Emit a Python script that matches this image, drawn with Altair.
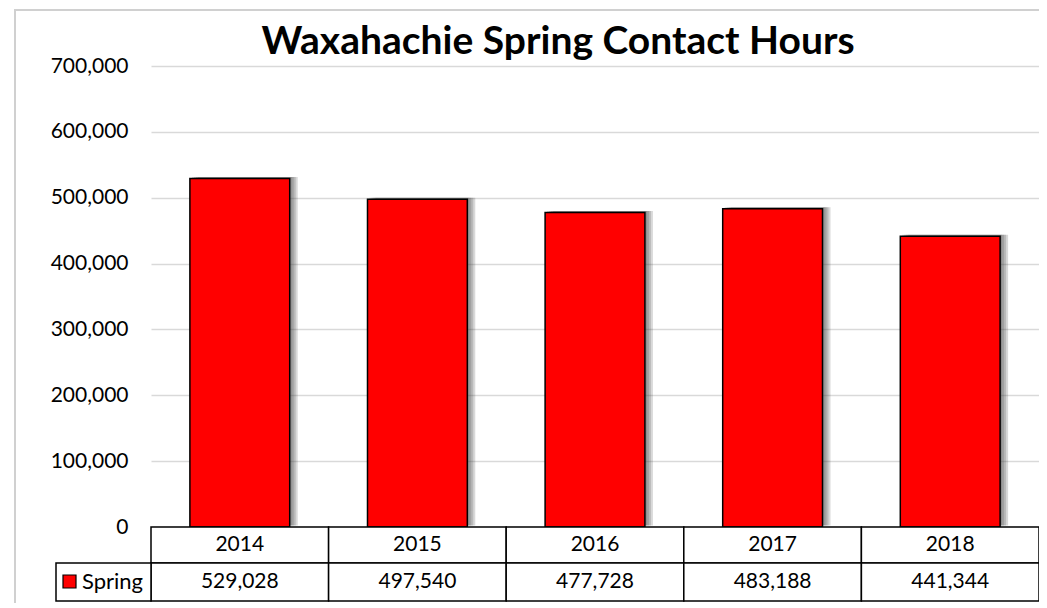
import altair as alt
import pandas as pd

years = ["2014", "2015", "2016", "2017", "2018"]
values = [529028, 497540, 477728, 483188, 441344]
y_ticks = [0, 100000, 200000, 300000, 400000, 500000, 600000, 700000]
series_name = "Spring"
chart_title = "Waxahachie Spring Contact Hours"

df = pd.DataFrame({"year": years, "value": values})
df["label"] = [f"{v:,}" for v in values]

W, H = 888, 461
FONT = "Lato"
COL = W / 5

x = alt.X("year:N", sort=years, axis=None,
          scale=alt.Scale(paddingInner=0.438, paddingOuter=0.219))
y = alt.Y("value:Q", scale=alt.Scale(domain=[0, 700000]),
          axis=alt.Axis(values=y_ticks, format=",.0f", labelFont=FONT, labelFontSize=21,
                        labelColor="#000000", labelPadding=23, ticks=False, domain=False,
                        gridColor="#d9d9d9", gridWidth=1.5, title=None))

base = alt.Chart(df)
one = alt.Chart(pd.DataFrame({"s": [series_name]}))

border = one.mark_rect(fill="transparent", stroke="#d0d0d0", strokeWidth=2).encode(
    x=alt.value(-136), x2=alt.value(905), y=alt.value(-56), y2=alt.value(580))

shadows = [
    base.mark_bar(fill="#404040", opacity=0.2, xOffset=k, yOffset=-1.5).encode(x=x, y=y)
    for k in (2, 4, 6, 8)
]
bars = base.mark_bar(fill="#ff0000", stroke="#000000", strokeWidth=1.5).encode(x=x, y=y)

row1 = base.mark_bar(width=COL, fill="white", stroke="#000000", strokeWidth=1.5).encode(
    x=x, y=alt.value(H), y2=alt.value(H + 36))
row2 = base.mark_bar(width=COL, fill="white", stroke="#000000", strokeWidth=1.5).encode(
    x=x, y=alt.value(H + 36), y2=alt.value(H + 74))
txt1 = base.mark_text(font=FONT, fontSize=21, baseline="middle", color="#000").encode(
    x=x, y=alt.value(H + 18), text="year:N")
txt2 = base.mark_text(font=FONT, fontSize=21, baseline="middle", color="#000").encode(
    x=x, y=alt.value(H + 55), text="label:N")

leg_cell = one.mark_rect(fill="white", stroke="#000000", strokeWidth=1.5).encode(
    x=alt.value(-95), x2=alt.value(0), y=alt.value(H + 36), y2=alt.value(H + 74))
leg_sq = one.mark_rect(fill="#ff0000", stroke="#000000", strokeWidth=1.2).encode(
    x=alt.value(-88), x2=alt.value(-75), y=alt.value(H + 48), y2=alt.value(H + 61))
leg_txt = one.mark_text(font=FONT, fontSize=22, align="left", baseline="middle", color="#000").encode(
    x=alt.value(-69), y=alt.value(H + 55), text="s:N")

title = one.mark_text(font=FONT, fontSize=39, fontWeight="bold", align="center",
                      baseline="alphabetic", color="#000").encode(
    x=alt.value(407), y=alt.value(-12), text=alt.value(chart_title))

chart = alt.layer(border, *shadows, bars, row1, row2, txt1, txt2,
                  leg_cell, leg_sq, leg_txt, title).properties(
    width=W, height=H,
    autosize=alt.AutoSizeParams(type="none"),
    padding={"left": 143, "top": 58, "right": 0, "bottom": 76},
).configure_view(stroke=None)

chart.save("out.html", embed_options={"renderer": "svg", "actions": False})
